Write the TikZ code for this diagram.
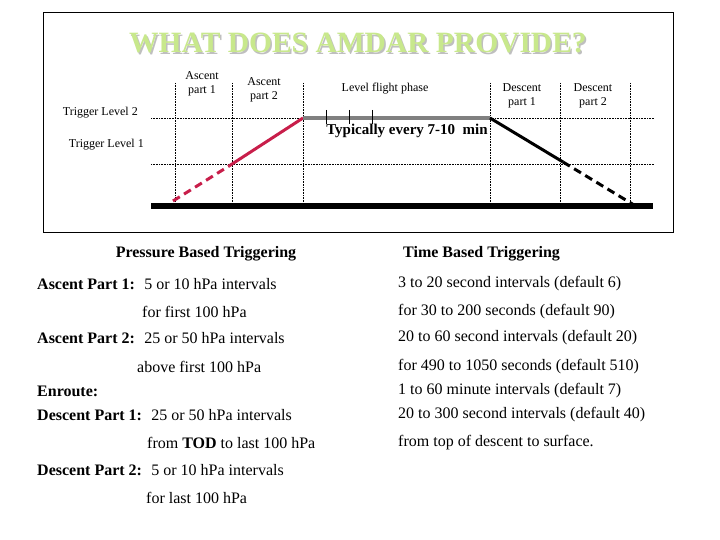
\documentclass[tikz,border=0pt]{standalone}
\usepackage{fontspec}
\setmainfont{Liberation Serif}
\definecolor{amdargreen}{HTML}{C8E88C}
\definecolor{ascentred}{HTML}{C81E4A}
\begin{document}
\begin{tikzpicture}[x=1pt,y=-1pt,
	lbl/.style={font=\fontsize{12}{14}\selectfont,align=center,inner sep=0pt},
	row/.style={font=\fontsize{16}{18}\selectfont,anchor=west,inner sep=0pt},
	head/.style={font=\fontsize{16}{18}\selectfont\bfseries,inner sep=0pt},
	guide/.style={densely dotted,line width=0.6pt},
	profile/.style={line width=3pt}]
	\useasboundingbox (0,0) rectangle (720,540);
	\draw[line width=0.8pt] (43,12) rectangle (673,232);
	% title with shadow
	\node[font=\fontsize{29.5}{32}\selectfont\bfseries,text=gray!50] at (359.5,44.5) {WHAT DOES AMDAR PROVIDE?};
	\node[font=\fontsize{29.5}{32}\selectfont\bfseries,text=amdargreen] (title) at (358,43) {WHAT DOES AMDAR PROVIDE?};
	% guide lines
	\foreach \x in {175,232,303,490,560,630}
		\draw[guide] (\x,83)--(\x,206);
	\draw[guide] (151,118)--(654,118);
	\draw[guide] (151,164)--(654,164);
	% flight profile
	\coordinate (a0) at (173,201);
	\coordinate (a1) at (229,166);
	\coordinate (toc) at (303,118);
	\coordinate (tod) at (490,118);
	\coordinate (d1) at (563,162);
	\coordinate (d2) at (634,205);
	\draw[profile,ascentred,dash pattern=on 8pt off 5pt] (a0)--(a1);
	\draw[profile,ascentred] (a1)--(toc);
	\draw[line width=4pt,gray] (toc)--(tod);
	\foreach \x in {326,349,372}
		\draw[line width=0.6pt] (\x,110)--(\x,124);
	\draw[profile] (tod)--(d1);
	\draw[profile,dash pattern=on 8pt off 5pt] (d1)--(d2);
	\draw[line width=6.5pt] (151,206)--(653,206);
	% labels
	\node[lbl,anchor=east] (tl2) at (138,113) {Trigger Level 2};
	\node[lbl,anchor=east] (tl1) at (144,145) {Trigger Level 1};
	\node[lbl] (asc1) at (202,84) {Ascent\\ part 1};
	\node[lbl] (asc2) at (264,89.5) {Ascent\\part 2};
	\node[lbl] (level) at (385,89) {Level flight phase};
	\node[lbl] (desc1) at (522,96) {Descent\\part 1};
	\node[lbl] (desc2) at (593,96) {Descent\\part 2};
	\node[font=\fontsize{15}{17}\selectfont\bfseries,inner sep=0pt,anchor=base] (typ) at (407,134.5) {Typically every 7-10~ min};
	% pressure based
	\node[head] (pres) at (206,254) {Pressure Based Triggering};
	\node[row] (p1) at (37,284) {\textbf{Ascent Part 1:}~ 5 or 10 hPa intervals};
	\node[row] (p2) at (142,312) {for first 100 hPa};
	\node[row] (p3) at (37,338) {\textbf{Ascent Part 2:}~ 25 or 50 hPa intervals};
	\node[row] (p4) at (137,367) {above first 100 hPa};
	\node[row] (p5) at (37,391) {\textbf{Enroute:}};
	\node[row] (p6) at (37,415) {\textbf{Descent Part 1:}~ 25 or 50 hPa intervals};
	\node[row] (p7) at (147,443) {from \textbf{TOD} to last 100 hPa};
	\node[row] (p8) at (37,470) {\textbf{Descent Part 2:}~ 5 or 10 hPa intervals};
	\node[row] (p9) at (146,498) {for last 100 hPa};
	% time based
	\node[head,anchor=west] (time) at (403,254) {Time Based Triggering};
	\node[row] (t1) at (398,284) {3 to 20 second intervals (default 6)};
	\node[row] (t2) at (398,312) {for 30 to 200 seconds (default 90)};
	\node[row] (t3) at (398,338) {20 to 60 second intervals (default 20)};
	\node[row] (t4) at (398,367) {for 490 to 1050 seconds (default 510)};
	\node[row] (t5) at (398,391) {1 to 60 minute intervals (default 7)};
	\node[row] (t6) at (398,415) {20 to 300 second intervals (default 40)};
	\node[row] (t7) at (398,443) {from top of descent to surface.};
\end{tikzpicture}
\end{document}
